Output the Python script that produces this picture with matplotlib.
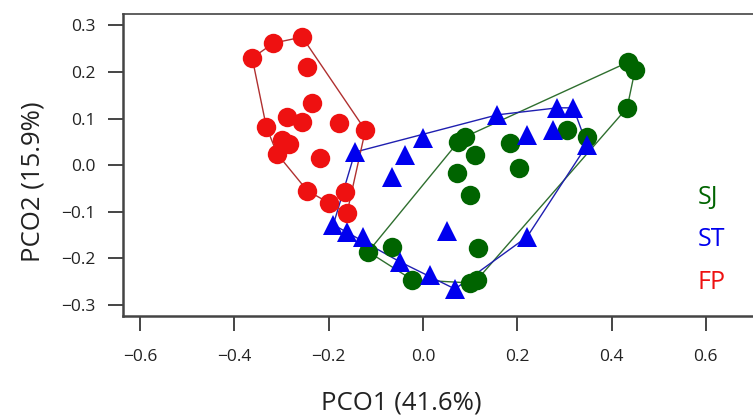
# import lib
import numpy as np
import matplotlib
matplotlib.use('Agg')
import matplotlib.pyplot as plt

# set data (PCO scores)
sj_x = [0.435, 0.450, 0.433, 0.306, 0.349, 0.090, 0.075, 0.111, 0.185,
        0.204, 0.073, 0.100, 0.117, -0.065, -0.116, -0.023, 0.100, 0.115]
sj_y = [0.221, 0.205, 0.123, 0.076, 0.061, 0.061, 0.050, 0.022, 0.048,
        -0.006, -0.017, -0.064, -0.178, -0.176, -0.186, -0.246, -0.253, -0.246]

st_x = [-0.144, -0.038, 0.001, -0.065, 0.158, 0.285, 0.319, 0.276, 0.221,
        0.348, 0.052, 0.221, -0.190, -0.161, -0.127, -0.048, 0.015, 0.068]
st_y = [0.028, 0.022, 0.058, -0.025, 0.108, 0.123, 0.123, 0.076, 0.065,
        0.043, -0.141, -0.154, -0.128, -0.143, -0.154, -0.208, -0.236, -0.266]

fp_x = [-0.362, -0.317, -0.256, -0.245, -0.235, -0.288, -0.256, -0.332, -0.177,
        -0.122, -0.298, -0.284, -0.309, -0.218, -0.245, -0.199, -0.165, -0.161]
fp_y = [0.230, 0.262, 0.275, 0.211, 0.133, 0.103, 0.093, 0.082, 0.091,
        0.075, 0.054, 0.045, 0.024, 0.015, -0.055, -0.081, -0.058, -0.103]

groups = ['SJ', 'ST', 'FP']
# where the group names sit (data coords)
label_x = 0.582
label_y = [-0.070, -0.160, -0.252]

x_ticks = [-0.6, -0.4, -0.2, 0.0, 0.2, 0.4, 0.6]
y_ticks = [-0.3, -0.2, -0.1, 0.0, 0.1, 0.2, 0.3]


def hull(xs, ys):
    # convex hull (monotone chain), returns closed polygon
    pts = sorted(zip(xs, ys))

    def cross(o, a, b):
        return (a[0] - o[0]) * (b[1] - o[1]) - (a[1] - o[1]) * (b[0] - o[0])

    lower = []
    for p in pts:
        while len(lower) >= 2 and cross(lower[-2], lower[-1], p) <= 0:
            lower.pop()
        lower.append(p)
    upper = []
    for p in reversed(pts):
        while len(upper) >= 2 and cross(upper[-2], upper[-1], p) <= 0:
            upper.pop()
        upper.append(p)
    poly = lower[:-1] + upper[:-1]
    poly.append(poly[0])
    return [p[0] for p in poly], [p[1] for p in poly]


def fmt(v):
    return '%.1f' % v if v >= 0 else '\u2212%.1f' % -v


plt.rcParams['font.family'] = ['Open Sans', 'DejaVu Sans']

fig = plt.figure(figsize=(7.53, 4.19), dpi=100)
ax = fig.add_axes([123 / 753, 1 - 316 / 419, 1 - 123 / 753, (316 - 14) / 419])

series = [
    (sj_x, sj_y, 'o', '#006400', '#2f6f2f', 14),
    (st_x, st_y, '^', '#0000ee', '#1f1fb0', 15),
    (fp_x, fp_y, 'o', '#ee1111', '#b03030', 14),
]

# hull lines first, points on top
for xs, ys, mk, col, lcol, ms in series:
    hx, hy = hull(xs, ys)
    ax.plot(hx, hy, color=lcol, lw=1.0, zorder=2)
for xs, ys, mk, col, lcol, ms in series:
    ax.plot(xs, ys, mk, color=col, markersize=ms, markeredgewidth=0, zorder=3)

# group labels
for name, s, ty in zip(groups, series, label_y):
    ax.text(label_x, ty, name, color=s[3], fontsize=18, ha='left', va='center')

# axis setting
ax.set_xlim(-0.636, 0.700)
ax.set_ylim(-0.324, 0.3245)
ax.set_xticks(x_ticks)
ax.set_yticks(y_ticks)
ax.set_xticklabels([fmt(v) for v in x_ticks])
ax.set_yticklabels([fmt(v) for v in y_ticks])
ax.spines['right'].set_visible(False)
for s in ['left', 'bottom', 'top']:
    ax.spines[s].set_color('#444444')
    ax.spines[s].set_linewidth(1.8)
ax.spines['top'].set_linewidth(1.2)
ax.tick_params(axis='both', direction='out', length=11, width=1.4, color='#444444',
               labelsize=12.5, colors='#222222')
ax.tick_params(axis='x', pad=13)
ax.tick_params(axis='y', pad=9)
ax.set_xlabel('PCO1 (41.6%)', fontsize=18.5, color='#222222')
ax.set_ylabel('PCO2 (15.9%)', fontsize=18.5, color='#222222')
ax.xaxis.set_label_coords((401 - 123) / 630, -(390 - 316) / 302)
ax.yaxis.set_label_coords((45 - 123) / 630, (316 - 182) / 302)

fig.savefig('out.png', dpi=100)
